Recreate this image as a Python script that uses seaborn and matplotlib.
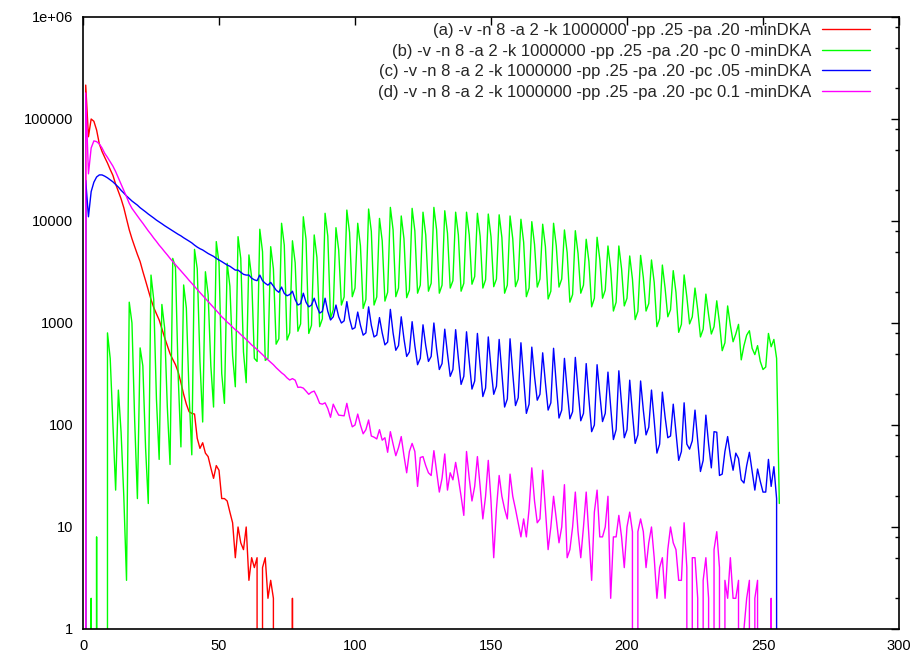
import numpy as np
import pandas as pd
import matplotlib
matplotlib.use("Agg")
import matplotlib.pyplot as plt
import seaborn as sns
from matplotlib.ticker import FixedLocator, NullFormatter


# ---------------------------------------------- Data -----------------------------------------------

run_labels = [
	"(a) -v -n 8 -a 2 -k 1000000 -pp .25 -pa .20 -minDKA",
	"(b) -v -n 8 -a 2 -k 1000000 -pp .25 -pa .20 -pc 0 -minDKA",
	"(c) -v -n 8 -a 2 -k 1000000 -pp .25 -pa .20 -pc .05 -minDKA",
	"(d) -v -n 8 -a 2 -k 1000000 -pp .25 -pa .20 -pc 0.1 -minDKA",
]
run_colors = ["#ff0000", "#00ff00", "#0000ff", "#ff00ff"]

# counts per x (x = 0, 1, 2, ...), 8 values per row
counts_a = [
	0, 215000, 67000, 100000, 95000, 78000, 57000, 48000,
	42000, 37000, 32000, 28000, 23000, 19500, 16500, 13500,
	10500, 8200, 6700, 5600, 4700, 4000, 3200, 2600,
	2100, 1700, 1420, 1230, 1070, 880, 720, 600,
	500, 440, 390, 330, 260, 200, 160, 135,
	130, 128, 74, 59, 67, 53, 49, 38,
	30, 40, 36, 19, 19, 18, 14, 11,
	5, 10, 7, 6, 10, 3, 5, 4,
	5, 0, 4, 5, 2, 3, 2, 0,
	0, 0, 0, 0, 0, 2, 0,
]

counts_b = [
	0, 0, 0, 2, 0, 8, 0, 0,
	0, 800, 450, 100, 23, 220, 85, 20,
	3, 1600, 1000, 110, 19, 570, 380, 60,
	17, 2950, 1700, 180, 46, 1520, 900, 150,
	41, 4300, 3500, 300, 61, 2360, 1400, 200,
	51, 5270, 3400, 420, 107, 3180, 1900, 380,
	150, 6280, 3900, 320, 163, 3850, 2300, 480,
	237, 7020, 4300, 520, 260, 4650, 2800, 450,
	420, 8300, 5000, 430, 450, 5600, 3400, 620,
	700, 9500, 5800, 680, 800, 6400, 3900, 830,
	980, 11000, 6600, 790, 950, 7300, 4400, 920,
	1100, 11900, 7100, 1110, 1350, 8600, 5200, 1500,
	1800, 12800, 7700, 1810, 2200, 9500, 5700, 1390,
	1700, 13100, 7900, 1500, 1800, 10600, 6400, 1640,
	2000, 13600, 8200, 1810, 2200, 11200, 6700, 1770,
	2100, 13300, 8000, 1960, 2350, 12200, 7300, 2050,
	2450, 13600, 8200, 1960, 2350, 12600, 7600, 2200,
	2600, 12200, 7300, 2050, 2450, 12200, 7300, 2400,
	2850, 11900, 7100, 2200, 2650, 11700, 7000, 2270,
	2700, 11500, 6900, 1960, 2350, 11200, 6700, 2270,
	2700, 10400, 6200, 1810, 2200, 9850, 5900, 2250,
	2700, 9300, 5600, 1720, 2050, 9500, 5700, 2250,
	2700, 8170, 4900, 1600, 1900, 8030, 4800, 1960,
	2350, 6620, 4000, 1440, 1750, 6930, 4200, 1750,
	2100, 5690, 3400, 1310, 1600, 5690, 3400, 1470,
	1750, 4540, 2700, 1080, 1300, 4600, 2800, 1310,
	1550, 4150, 2500, 920, 1100, 3700, 2200, 1150,
	1350, 3260, 2000, 810, 970, 2960, 1800, 980,
	1150, 2200, 1350, 730, 870, 1920, 1200, 780,
	920, 1650, 1000, 535, 640, 1470, 950, 655,
	780, 970, 435, 600, 760, 840, 565, 490,
	600, 420, 350, 370, 790, 585, 690, 450,
	17,
]

counts_c = [
	0, 25000, 11000, 19400, 24000, 27000, 28300, 28300,
	27500, 26500, 25300, 24200, 22800, 21500, 20000, 18800,
	17600, 16600, 15700, 15000, 14300, 13500, 12900, 12300,
	11700, 11200, 10700, 10200, 9800, 9400, 9000, 8650,
	8300, 8000, 7700, 7400, 7150, 6850, 6600, 6350,
	6100, 5800, 5550, 5350, 5200, 5000, 4800, 4650,
	4500, 4300, 4150, 4000, 3850, 3700, 3600, 3450,
	3300, 3300, 3150, 3000, 2950, 2950, 2750, 2650,
	2600, 2950, 2600, 2450, 2350, 2500, 2300, 2100,
	2000, 2250, 1950, 1850, 1900, 2050, 1700, 1500,
	1550, 1960, 1600, 1440, 1500, 1750, 1450, 1250,
	1300, 1750, 1300, 1070, 1150, 1500, 1150, 1000,
	1050, 1620, 1100, 870, 900, 1280, 950, 760,
	800, 1440, 950, 730, 760, 1130, 800, 610,
	650, 1360, 800, 540, 600, 1150, 700, 470,
	520, 1030, 600, 390, 450, 960, 600, 420,
	470, 1000, 560, 350, 400, 870, 500, 300,
	350, 860, 450, 250, 300, 820, 420, 225,
	270, 790, 380, 190, 230, 730, 360, 200,
	240, 690, 320, 150, 180, 700, 320, 155,
	185, 640, 290, 130, 160, 580, 300, 175,
	200, 510, 260, 140, 165, 565, 250, 117,
	140, 450, 220, 115, 135, 460, 220, 110,
	130, 400, 180, 86, 100, 390, 200, 108,
	130, 330, 150, 72, 90, 340, 160, 75,
	90, 275, 130, 66, 80, 270, 140, 80,
	95, 220, 110, 53, 65, 210, 120, 75,
	78, 160, 85, 45, 55, 165, 65, 58,
	70, 140, 70, 35, 45, 125, 65, 38,
	86, 85, 32, 33, 55, 77, 50, 36,
	53, 47, 29, 27, 40, 54, 35, 23,
	37, 28, 22, 22, 46, 25, 39, 19,
	0,
]

counts_d = [
	0, 180000, 29000, 52000, 61000, 60000, 57000, 52000,
	46000, 42000, 38000, 34500, 30500, 26500, 23000, 20000,
	17300, 14900, 13300, 12200, 11200, 10300, 9500, 8700,
	8000, 7400, 6800, 6300, 5800, 5400, 5000, 4650,
	4300, 4000, 3730, 3480, 3240, 3020, 2820, 2620,
	2450, 2280, 2130, 1990, 1860, 1740, 1620, 1520,
	1420, 1320, 1240, 1150, 1090, 1020, 970, 910,
	860, 820, 770, 730, 690, 650, 610, 580,
	550, 520, 490, 460, 435, 410, 390, 365,
	345, 325, 310, 290, 276, 285, 275, 234,
	235, 230, 215, 200, 210, 215, 190, 163,
	160, 165, 145, 119, 160, 140, 125, 124,
	123, 163, 120, 96, 100, 128, 100, 82,
	90, 112, 78, 76, 73, 90, 71, 75,
	54, 86, 65, 50, 60, 77, 50, 34,
	55, 66, 55, 25, 48, 49, 40, 34,
	32, 56, 35, 22, 30, 52, 23, 34,
	29, 43, 30, 20, 13, 55, 30, 18,
	25, 49, 25, 12, 20, 45, 18, 5,
	15, 32, 20, 15, 12, 33, 20, 15,
	11, 8, 12, 8, 15, 38, 18, 11,
	12, 36, 15, 6, 10, 20, 12, 7,
	10, 26, 5, 6, 10, 22, 9, 5,
	10, 22, 8, 3, 14, 23, 8, 8,
	10, 20, 2, 8, 8, 13, 8, 4,
	10, 14, 9, 0, 9, 12, 9, 4,
	7, 10, 5, 2, 4, 5, 2, 6,
	10, 7, 6, 3, 3, 11, 4, 0,
	5, 5, 2, 0, 3, 5, 2, 0,
	6, 9, 4, 0, 3, 2, 5, 2,
	2, 3, 0, 1, 2, 3, 0, 2,
	3, 0, 0, 0, 0, 2, 0, 0,
	0,
]

y_tick_values = [1, 10, 100, 1000, 10000, 100000, 1000000]
y_tick_labels = ["1", "10", "100", "1000", "10000", "100000", "1e+06"]
x_tick_values = [0, 50, 100, 150, 200, 250, 300]


# ---------------------------------------------- Plot -----------------------------------------------

# Long table: one row per point
frames = []
for label, counts in zip(run_labels, [counts_a, counts_b, counts_c, counts_d]):
	frames.append(pd.DataFrame({"x": np.arange(len(counts)), "count": counts, "run": label}))
df = pd.concat(frames, ignore_index=True)

sns.set_style("white")
plt.rcParams["font.family"] = ["Liberation Sans", "DejaVu Sans"]

fig = plt.figure(figsize=(9.18, 6.56), dpi=100)
ax = fig.add_axes([83 / 918, 27 / 656, 816 / 918, 612 / 656])

for label, color in zip(run_labels, run_colors):
	sns.lineplot(data=df[df["run"] == label], x="x", y="count", color=color, linewidth=1.0,
				 label=label, estimator=None, sort=False, ax=ax)

# Log axis, zero counts drop to the bottom edge
ax.set_yscale("log", nonpositive="clip")
ax.set_ylim(1, 1e6)
ax.set_xlim(0, 300)
ax.xaxis.set_major_locator(FixedLocator(x_tick_values))
ax.yaxis.set_major_locator(FixedLocator(y_tick_values))
ax.set_yticklabels(y_tick_labels)
minor_pos = [m * 10 ** e for e in range(6) for m in (2, 5, 8)]
ax.yaxis.set_minor_locator(FixedLocator(minor_pos))
ax.yaxis.set_minor_formatter(NullFormatter())
ax.set_xlabel("")
ax.set_ylabel("")

ax.tick_params(which="both", direction="in", top=True, right=True, colors="black", labelsize=10.5)
ax.tick_params(which="major", length=6, width=1)
ax.tick_params(which="minor", length=3, width=1)
ax.tick_params(axis="x", which="minor", bottom=False, top=False)
ax.tick_params(axis="x", pad=7)
ax.tick_params(axis="y", pad=7)

for spine in ax.spines.values():
	spine.set_color("black")
	spine.set_linewidth(1.2)
	spine.set_zorder(5)

# Key at the top right, text before the sample line
ax.legend(loc="upper right", bbox_to_anchor=(0.965, 0.99), markerfirst=False, frameon=False,
		  fontsize=12, handlelength=2.9, handletextpad=0.65, labelspacing=0.33,
		  borderpad=0, borderaxespad=0)

fig.savefig("out.png", dpi=100)
